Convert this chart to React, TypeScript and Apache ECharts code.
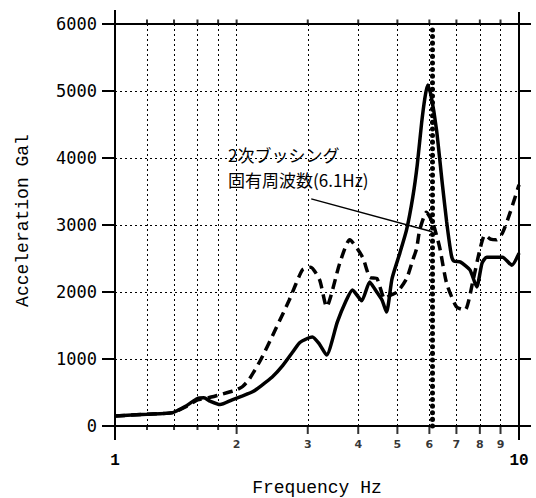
import React, { useEffect, useRef } from 'react';
import * as echarts from 'echarts';

// Solid curve (Hz, Gal)
const solidFreq = [1.0, 1.2, 1.39, 1.5, 1.6, 1.66, 1.72, 1.82, 1.95, 2.07, 2.19, 2.3, 2.45, 2.6, 2.75, 2.86, 3.0, 3.08, 3.2, 3.34, 3.55, 3.72, 3.87, 4.08, 4.27, 4.4, 4.58, 4.7, 4.85, 5.07, 5.27, 5.46, 5.6, 5.74, 5.85, 5.94, 6.05, 6.25, 6.45, 6.62, 6.8, 6.9, 7.15, 7.56, 7.86, 8.1, 8.32, 9.1, 9.6, 10];
const solidGal = [150, 175, 200, 300, 410, 420, 370, 320, 390, 450, 510, 600, 730, 900, 1100, 1240, 1310, 1330, 1230, 1060, 1550, 1850, 2030, 1870, 2150, 2040, 1880, 1700, 2200, 2580, 2930, 3420, 3900, 4520, 4900, 5090, 4950, 4420, 3650, 3050, 2550, 2460, 2450, 2330, 2075, 2430, 2520, 2520, 2400, 2580];

// Dashed curve (Hz, Gal)
const dashFreq = [1.0, 1.2, 1.39, 1.5, 1.6, 1.7, 1.8, 1.9, 2.0, 2.07, 2.15, 2.3, 2.5, 2.7, 2.91, 3.05, 3.21, 3.34, 3.6, 3.81, 4.1, 4.27, 4.45, 4.65, 4.8, 5.0, 5.27, 5.46, 5.58, 5.68, 5.9, 6.12, 6.36, 6.62, 7.0, 7.35, 7.7, 8.0, 8.23, 8.5, 8.8, 9.1, 9.5, 10];
const dashGal = [150, 175, 200, 290, 390, 420, 460, 500, 540, 590, 700, 1000, 1450, 1880, 2330, 2370, 2180, 1780, 2430, 2780, 2520, 2220, 2200, 1900, 1950, 2000, 2200, 2480, 2650, 2930, 3190, 3030, 2670, 2130, 1780, 1730, 2180, 2630, 2850, 2790, 2780, 2880, 3180, 3600];

// Axis ticks / grid
const majorTickFreqs = [2, 3, 4, 5, 6, 7, 8, 9];
const minorTickFreqs = [1.2, 1.4, 1.6, 1.8];
const gridFreqs = [1.2, 1.4, 1.6, 1.8, 2, 3, 4, 5, 6, 7, 8, 9];
const yMin = 0;
const yMax = 6000;
const yStep = 1000;

// Annotation
const markerFreq = 6.1;
const noteLines = ['2次ブッシング', '固有周波数(6.1Hz)'];
const noteFrom = [3.06, 3390];
const noteTo = [6.1, 2900];

export default function App() {
  const ref = useRef<HTMLDivElement>(null);
  useEffect(() => {
    document.body.style.margin = '0';
    const chart = echarts.init(ref.current as HTMLDivElement, null, { renderer: 'svg' });
    const zip = (xs: number[], ys: number[]) => xs.map((x, i) => [x, ys[i]]);
    const black = '#000';
    const mono = '"Liberation Mono", "DejaVu Sans Mono", monospace';
    const cjk = '17px "Noto Sans CJK JP"';
    chart.setOption({
      animation: false,
      backgroundColor: '#fff',
      grid: { left: 115, right: 17, top: 24, bottom: 72, outerBoundsMode: 'none' },
      xAxis: [
        {
          type: 'log', logBase: 10, min: 1, max: 10, position: 'bottom',
          axisLine: { onZero: false, lineStyle: { color: black, width: 2 } },
          axisTick: { show: false },
          minorTick: { show: false },
          splitLine: { show: false },
          axisLabel: { fontSize: 16, fontFamily: mono, color: black, margin: 27, fontWeight: 'bold' },
          name: 'Frequency Hz', nameLocation: 'middle', nameGap: 53,
          nameTextStyle: { fontFamily: mono, fontSize: 18, color: black },
        },
        {
          type: 'log', logBase: 10, min: 1, max: 10, position: 'top',
          axisLine: { onZero: false, lineStyle: { color: black, width: 2 } },
          axisTick: { show: false }, axisLabel: { show: false }, splitLine: { show: false },
        },
      ],
      yAxis: [
        {
          type: 'value', min: yMin, max: yMax, interval: yStep, position: 'left',
          axisLine: { show: true, onZero: false, lineStyle: { color: black, width: 2 } },
          axisTick: { show: true, length: 13, lineStyle: { color: black, width: 2 } },
          axisLabel: {
            fontSize: 17, fontFamily: '"DejaVu Sans Mono", monospace', color: black, margin: 18,
            formatter: (v: number) => String(v),
          },
          splitLine: { show: true, lineStyle: { color: black, width: 1, type: [2, 3] } },
          name: 'Acceleration Gal', nameLocation: 'middle', nameGap: 83,
          nameTextStyle: { fontFamily: mono, fontSize: 18, color: black, padding: [0, 0, 0, 9] },
        },
        {
          type: 'value', min: yMin, max: yMax, interval: yStep, position: 'right',
          axisLine: { show: true, onZero: false, lineStyle: { color: black, width: 2 } },
          axisTick: { show: true, length: 12, lineStyle: { color: black, width: 2 } },
          axisLabel: { show: false }, splitLine: { show: false },
        },
      ],
      graphic: [
        { type: 'line', shape: { x1: 115, y1: 10, x2: 115, y2: 440 }, style: { stroke: black, lineWidth: 2 } },
        { type: 'line', shape: { x1: 519, y1: 12, x2: 519, y2: 440 }, style: { stroke: black, lineWidth: 2 } },
        { type: 'text', style: { x: 228, y: 154, verticalAlign: 'middle', text: noteLines[0], font: cjk, fill: black } },
        { type: 'text', style: { x: 228, y: 179, verticalAlign: 'middle', text: noteLines[1], font: cjk, fill: black } },
      ],
      series: [
        {
          type: 'scatter', data: [], silent: true,
          markLine: {
            silent: true, symbol: 'none', label: { show: false },
            lineStyle: { color: black, width: 1, type: [2, 3] },
            data: gridFreqs.map((f) => ({ xAxis: f })),
          },
        },
        {
          name: 'solid', type: 'line', data: zip(solidFreq, solidGal), showSymbol: false, symbol: 'none',
          smooth: 0.2, lineStyle: { color: black, width: 3.5 }, z: 5,
        },
        {
          name: 'dashed', type: 'line', data: zip(dashFreq, dashGal), showSymbol: false, symbol: 'none',
          smooth: 0.2, lineStyle: { color: black, width: 3.5, type: [10, 6] }, z: 5,
        },
        {
          type: 'scatter', data: [], silent: true,
          markLine: {
            silent: true, symbol: 'none', label: { show: false },
            lineStyle: { color: black, width: 5, type: [0.1, 6.5], cap: 'round' },
            data: [{ xAxis: markerFreq }],
          },
        },
        {
          type: 'scatter', data: [], silent: true,
          markLine: {
            silent: true, symbol: 'none', label: { show: false },
            lineStyle: { color: black, width: 1.5, type: 'solid' },
            data: [[{ coord: noteFrom }, { coord: noteTo }]],
          },
        },
        {
          type: 'scatter', silent: true, clip: false,
          data: majorTickFreqs.map((f) => [f, yMin]),
          symbol: 'rect', symbolSize: [2, 8], symbolOffset: [0, 4],
          itemStyle: { color: black },
          label: {
            show: true, position: 'bottom', distance: 5,
            formatter: (p: any) => String(p.value[0]),
            fontSize: 11, fontWeight: 'bold', fontFamily: '"DejaVu Sans", sans-serif', color: black,
          },
        },
        {
          type: 'scatter', silent: true, clip: false,
          data: minorTickFreqs.map((f) => [f, yMin]),
          symbol: 'rect', symbolSize: [2, 4], symbolOffset: [0, 2],
          itemStyle: { color: black },
        },
        {
          type: 'scatter', silent: true, clip: false,
          data: gridFreqs.map((f) => [f, yMax]),
          symbol: 'rect', symbolSize: [2, 5], symbolOffset: [0, -2],
          itemStyle: { color: black },
        },
      ],
    });
    return () => chart.dispose();
  }, []);
  return <div ref={ref} style={{ width: 536, height: 498 }} />;
}
